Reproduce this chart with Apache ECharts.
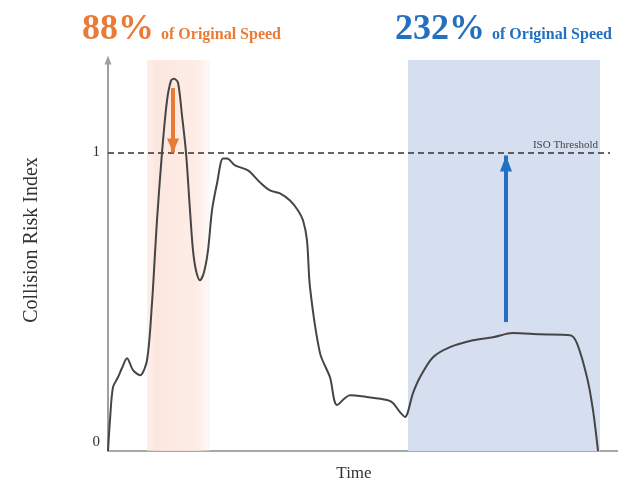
<!DOCTYPE html>
<html>
<head>
<meta charset="utf-8">
<script src="https://cdn.jsdelivr.net/npm/echarts@6/dist/echarts.min.js"></script>
<style>
  html, body { margin: 0; padding: 0; background: #ffffff; }
  #chart { width: 618px; height: 485px; }
</style>
</head>
<body>
<div id="chart"></div>
<script>
// Collision risk index over time
const time = [0, 2, 5, 10, 14, 19, 25, 32, 39, 44, 47, 49, 54, 59, 63, 66, 70, 74, 78, 82,
  85, 88, 92, 96, 100, 104, 109, 115, 119, 127, 140, 152, 162, 172, 182, 190, 195, 199, 202,
  212, 222, 229, 242, 259, 279, 285, 292, 297, 305, 312, 325, 342, 365, 385, 405, 432, 462,
  469, 479, 485, 490];
const risk = [0, 0.104, 0.214, 0.247, 0.278, 0.311, 0.271, 0.254, 0.304, 0.495, 0.662, 0.773,
  1.0, 1.174, 1.241, 1.247, 1.234, 1.124, 1.0, 0.806, 0.672, 0.605, 0.572, 0.599, 0.672, 0.806,
  0.896, 0.980, 0.980, 0.957, 0.940, 0.900, 0.873, 0.863, 0.839, 0.806, 0.773, 0.706, 0.548,
  0.328, 0.247, 0.154, 0.187, 0.181, 0.171, 0.161, 0.130, 0.114, 0.194, 0.247, 0.314, 0.348,
  0.371, 0.381, 0.395, 0.391, 0.388, 0.361, 0.247, 0.137, 0];

// Threshold and speed-change windows
const isoThreshold = 1;
const slowWindow = [39, 102];   // slowed down: 88% of original speed
const fastWindow = [300, 492];  // sped up: 232% of original speed
const slowArrow = { t: 65, from: 1.216, to: 1.0 };
const fastArrow = { t: 398, from: 0.432, to: 0.99 };
const yTicks = [0, 1];
const speedLabels = ['88%', '232%'];

const serif = '"Liberation Serif", "DejaVu Serif", serif';
const orange = '#e97b36';
const blue = '#2270bf';

const chart = echarts.init(document.getElementById('chart'));

chart.setOption({
  animation: false,
  grid: { left: 108, right: 0, top: 60, bottom: 34 },
  xAxis: {
    type: 'value', min: 0, max: 510,
    axisLine: { lineStyle: { color: '#a8a8a8', width: 2 } },
    axisTick: { show: false },
    axisLabel: { show: false },
    splitLine: { show: false }
  },
  yAxis: {
    type: 'value', min: 0, max: 1.31,
    axisLine: {
      show: true, symbol: ['none', 'triangle'], symbolSize: [7, 9],
      lineStyle: { color: '#a0a0a0', width: 2 }
    },
    axisTick: { show: false },
    splitLine: { show: false },
    axisLabel: {
      customValues: yTicks,
      margin: 8,
      color: '#333',
      fontFamily: serif,
      fontSize: 15,
      formatter: v => (v === 0 ? '{lo|0}' : '{n|' + v + '}'),
      rich: {
        lo: { fontFamily: serif, fontSize: 15, color: '#333', padding: [0, 0, 18, 0] },
        n: { fontFamily: serif, fontSize: 15, color: '#333' }
      }
    }
  },
  graphic: [
    { type: 'text', left: 82, top: 12, style: { text: speedLabels[0], fill: orange, font: 'bold 36px ' + serif } },
    { type: 'text', left: 161, top: 27, style: { text: 'of Original Speed', fill: orange, font: 'bold 16px ' + serif } },
    { type: 'text', left: 395, top: 12, style: { text: speedLabels[1], fill: blue, font: 'bold 36px ' + serif } },
    { type: 'text', left: 492, top: 27, style: { text: 'of Original Speed', fill: blue, font: 'bold 16px ' + serif } },
    {
      type: 'text', x: 32, y: 240, rotation: Math.PI / 2,
      style: { text: 'Collision Risk Index', fill: '#333', font: '20px ' + serif, align: 'center', verticalAlign: 'middle' }
    },
    {
      type: 'text', x: 354, y: 474,
      style: { text: 'Time', fill: '#333', font: '17px ' + serif, align: 'center', verticalAlign: 'middle' }
    }
  ],
  series: [
    {
      type: 'line',
      data: time.map((t, i) => [t, risk[i]]),
      showSymbol: false,
      smooth: 0.3,
      lineStyle: { color: '#454545', width: 2 },
      z: 5,
      markArea: {
        silent: true,
        data: [
          [
            {
              xAxis: slowWindow[0], yAxis: 1.31,
              itemStyle: {
                color: new echarts.graphic.LinearGradient(0, 0, 1, 0, [
                  { offset: 0, color: 'rgba(252,226,218,0.55)' },
                  { offset: 0.15, color: 'rgba(252,228,220,0.9)' },
                  { offset: 0.8, color: 'rgba(253,234,226,0.85)' },
                  { offset: 1, color: 'rgba(253,238,230,0.3)' }
                ])
              }
            },
            { xAxis: slowWindow[1], yAxis: 0 }
          ],
          [
            { xAxis: fastWindow[0], yAxis: 1.31, itemStyle: { color: '#d6dfef' } },
            { xAxis: fastWindow[1], yAxis: 0 }
          ]
        ]
      },
      markLine: {
        silent: true,
        animation: false,
        data: [
          [
            {
              coord: [0, isoThreshold], symbol: 'none',
              lineStyle: { color: '#333', width: 1.5, type: [6, 4] },
              label: {
                show: true, position: 'insideEndTop', formatter: 'ISO Threshold',
                fontFamily: serif, fontSize: 11, color: '#444', distance: [12, 2]
              }
            },
            { coord: [502, isoThreshold], symbol: 'none' }
          ],
          [
            {
              coord: [slowArrow.t, slowArrow.from], symbol: 'none',
              lineStyle: { color: orange, width: 4, type: 'solid' },
              label: { show: false }
            },
            { coord: [slowArrow.t, slowArrow.to], symbol: 'triangle', symbolSize: [12, 14], symbolOffset: [0, '50%'] }
          ],
          [
            {
              coord: [fastArrow.t, fastArrow.from], symbol: 'none',
              lineStyle: { color: blue, width: 4, type: 'solid' },
              label: { show: false }
            },
            { coord: [fastArrow.t, fastArrow.to], symbol: 'triangle', symbolSize: [12, 16], symbolOffset: [0, '50%'] }
          ]
        ]
      }
    }
  ]
});
</script>
</body>
</html>
